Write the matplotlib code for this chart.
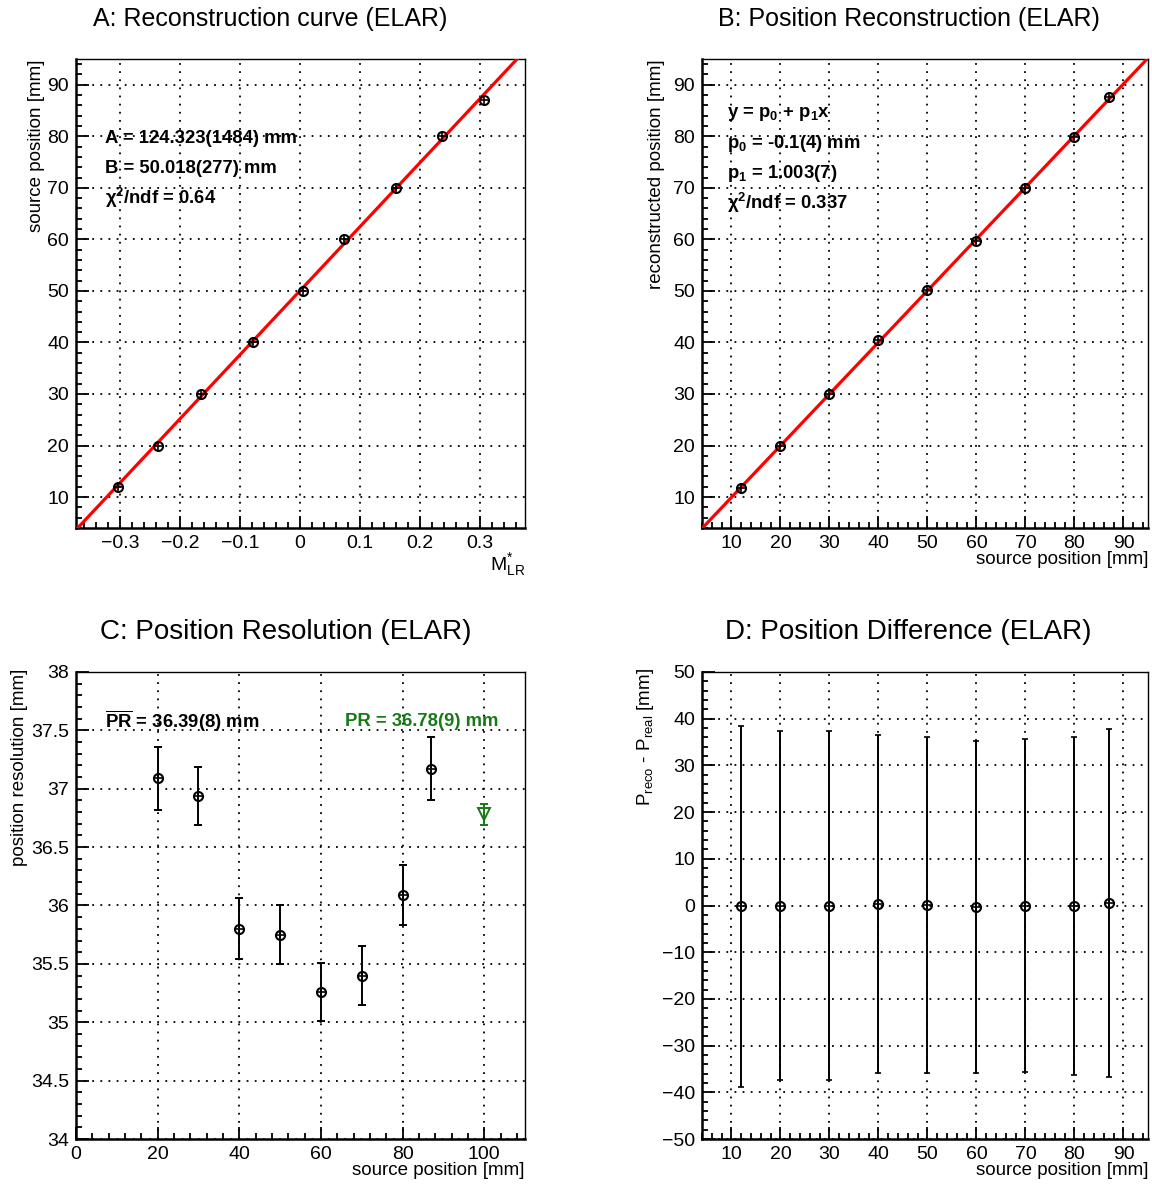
import matplotlib
matplotlib.use('Agg')
import matplotlib.pyplot as plt
from matplotlib.ticker import MultipleLocator, FuncFormatter
import numpy as np

plt.rcParams['font.family'] = ['Liberation Sans', 'DejaVu Sans']
plt.rcParams['mathtext.fontset'] = 'custom'
plt.rcParams['mathtext.rm'] = 'Liberation Sans'
plt.rcParams['mathtext.it'] = 'Liberation Sans:italic'
plt.rcParams['mathtext.bf'] = 'Liberation Sans:bold'

# calibration points
m_lr = [-0.303, -0.237, -0.165, -0.078, 0.005, 0.073, 0.160, 0.237, 0.307]
src_pos = [12, 20, 30, 40, 50, 60, 70, 80, 87]
fit_A, fit_B = 124.323, 50.018

# reconstructed positions
reco_pos = [11.8, 20.0, 30.0, 40.4, 50.1, 59.7, 70.0, 79.8, 87.6]
p0, p1 = -0.1, 1.003

# position resolution
res_pos = [20, 30, 40, 50, 60, 70, 80, 87]
res_val = [37.09, 36.94, 35.80, 35.75, 35.26, 35.40, 36.09, 37.17]
res_err = [0.27, 0.25, 0.26, 0.25, 0.25, 0.25, 0.26, 0.27]
pr_pos, pr_val, pr_err = 100, 36.78, 0.09

# difference error bars
diff_err = [38.7, 37.3, 37.3, 36.2, 35.9, 35.6, 35.7, 36.2, 37.3]

GREEN = '#177a17'
W, H = 1152, 1185
fig = plt.figure(figsize=(W / 100, H / 100), dpi=100)


def tick_fmt(v, pos):
    v = round(v, 6)
    if v == 0:
        return '0'
    return f'{v:g}'.replace('-', '\u2212')


def make_axes(l, t, r, b):
    return fig.add_axes([l / W, 1 - b / H, (r - l) / W, (b - t) / H])


def style(ax, xmaj, xmin, ymaj, ymin):
    ax.xaxis.set_major_locator(MultipleLocator(xmaj))
    ax.xaxis.set_minor_locator(MultipleLocator(xmin))
    ax.yaxis.set_major_locator(MultipleLocator(ymaj))
    ax.yaxis.set_minor_locator(MultipleLocator(ymin))
    ax.xaxis.set_major_formatter(FuncFormatter(tick_fmt))
    ax.yaxis.set_major_formatter(FuncFormatter(tick_fmt))
    ax.tick_params(which='both', direction='in', top=False, right=False,
                   width=1.3, labelsize=14, pad=5)
    ax.tick_params(which='major', length=9)
    ax.tick_params(which='minor', length=4.5)
    ax.grid(True, which='major', color='black', linestyle=(0, (1, 3.5)), lw=1.3)
    for s in ['left', 'bottom']:
        ax.spines[s].set_linewidth(1.8)
    for s in ['top', 'right']:
        ax.spines[s].set_linewidth(1.0)


def markers(ax, x, y, color='black'):
    ax.plot(x, y, 'o', ms=6.5, mfc='none', mec=color, mew=1.5, zorder=5)
    ax.plot(x, y, '+', ms=6.5, mec=color, mew=1.2, zorder=5)


# A: reconstruction curve
axA = make_axes(76, 59, 525, 528)
style(axA, 0.1, 0.02, 10, 2)
axA.set_xlim(-0.373, 0.375)
axA.set_ylim(4, 95)
xs = np.array(axA.get_xlim())
axA.plot(xs, fit_A * xs + fit_B, color='red', lw=2.3, zorder=4)
markers(axA, m_lr, src_pos)
axA.set_ylabel('source position [mm]', fontsize=13.5, loc='top')
axA.yaxis.set_label_coords(-0.069, 1.0)
axA.set_xlabel(r'$\mathrm{M}^{*}_{\mathrm{LR}}$', fontsize=14, loc='right')
axA.xaxis.set_label_coords(1.0, -0.05)
for i, s in enumerate(['A = 124.323(1484) mm', 'B = 50.018(277) mm',
                       'χ$^{\\mathbf{2}}$/ndf = 0.64']):
    axA.text(0.065, 0.83 - i * 0.063, s, transform=axA.transAxes,
             fontsize=13.3, fontweight='bold', va='center')

# B: position reconstruction
axB = make_axes(702, 59, 1148, 528)
style(axB, 10, 2, 10, 2)
axB.set_xlim(4, 95)
axB.set_ylim(4, 95)
xs = np.array(axB.get_xlim())
axB.plot(xs, p0 + p1 * xs, color='red', lw=2.3, zorder=4)
markers(axB, src_pos, reco_pos)
axB.set_ylabel('reconstructed position [mm]', fontsize=13.5, loc='top')
axB.yaxis.set_label_coords(-0.083, 1.0)
axB.set_xlabel('source position [mm]', fontsize=13.5, loc='right')
axB.xaxis.set_label_coords(1.0, -0.05)
for i, s in enumerate([r'y = p$_{\mathbf{0}}$ + p$_{\mathbf{1}}$x',
                       r'p$_{\mathbf{0}}$ = -0.1(4) mm',
                       r'p$_{\mathbf{1}}$ = 1.003(7)',
                       'χ$^{\\mathbf{2}}$/ndf = 0.337']):
    axB.text(0.056, 0.882 - i * 0.063, s, transform=axB.transAxes,
             fontsize=13.3, fontweight='bold', va='center')

# C: position resolution
axC = make_axes(76, 672, 525, 1139)
style(axC, 20, 4, 0.5, 0.1)
axC.set_xlim(0, 110)
axC.set_ylim(34, 38)
axC.errorbar(res_pos, res_val, yerr=res_err, fmt='none', ecolor='black',
             elinewidth=1.4, capsize=3, capthick=1.4, zorder=4)
markers(axC, res_pos, res_val)
axC.errorbar([pr_pos], [pr_val], yerr=[pr_err], fmt='v', ms=8, mfc='none',
             mec=GREEN, mew=1.4, ecolor=GREEN, elinewidth=1.4, capsize=3,
             capthick=1.4, zorder=5)
axC.set_ylabel('position resolution [mm]', fontsize=13.5, loc='top')
axC.yaxis.set_label_coords(-0.107, 1.008)
axC.set_xlabel('source position [mm]', fontsize=13.5, loc='right')
axC.xaxis.set_label_coords(1.0, -0.05)
axC.text(0.065, 0.895, r'$\overline{\mathbf{PR}}$ = 36.39(8) mm',
         transform=axC.transAxes, fontsize=13.3, fontweight='bold', va='center')
axC.text(0.6, 0.895, 'PR = 36.78(9) mm', transform=axC.transAxes,
         fontsize=13.3, fontweight='bold', va='center', color=GREEN)

# D: position difference
diff = np.array(reco_pos) - np.array(src_pos)
axD = make_axes(702, 672, 1148, 1139)
style(axD, 10, 2, 10, 2)
axD.set_xlim(4, 95)
axD.set_ylim(-50, 50)
axD.errorbar(src_pos, diff, yerr=diff_err, fmt='none', ecolor='black',
             elinewidth=1.4, capsize=2, capthick=1.2, zorder=4)
markers(axD, src_pos, diff)
axD.set_ylabel(r'P$_{\mathrm{reco}}$ - P$_{\mathrm{real}}$ [mm]', fontsize=13.5,
               loc='top')
axD.yaxis.set_label_coords(-0.103, 1.008)
axD.set_xlabel('source position [mm]', fontsize=13.5, loc='right')
axD.xaxis.set_label_coords(1.0, -0.05)

# panel titles
fig.text(270 / W, 1 - 19 / H, 'A: Reconstruction curve (ELAR)', fontsize=18,
         ha='center', va='center')
fig.text(909 / W, 1 - 19 / H, 'B: Position Reconstruction (ELAR)', fontsize=18,
         ha='center', va='center')
fig.text(286 / W, 1 - 632 / H, 'C: Position Resolution (ELAR)', fontsize=20,
         ha='center', va='center')
fig.text(908 / W, 1 - 632 / H, 'D: Position Difference (ELAR)', fontsize=20,
         ha='center', va='center')

fig.savefig('out.png', dpi=100)
